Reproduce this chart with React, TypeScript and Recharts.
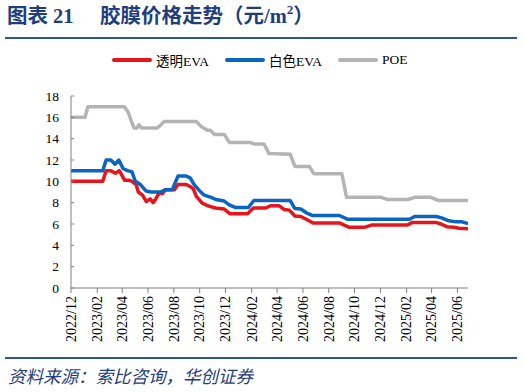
import React from 'react';
import { LineChart, Line, XAxis, YAxis } from 'recharts';

// x轴刻度（每两个月）
const tickLabels = [
	'2022/12', '2023/02', '2023/04', '2023/06', '2023/08', '2023/10', '2023/12', '2024/02',
	'2024/04', '2024/06', '2024/08', '2024/10', '2024/12', '2025/02', '2025/04', '2025/06',
];
const yTicks = [0, 2, 4, 6, 8, 10, 12, 14, 16, 18];
const lastDate = '2025-06-26';

// 透明EVA
const clearEvaDates = [
	'2022-12-01', '2023-02-14', '2023-02-22', '2023-03-05', '2023-03-16', '2023-03-25', '2023-04-07',
	'2023-04-17', '2023-04-24', '2023-05-04', '2023-05-09', '2023-05-19', '2023-05-28', '2023-06-06',
	'2023-06-13', '2023-06-20', '2023-06-27', '2023-07-05', '2023-07-12', '2023-08-02', '2023-08-11',
	'2023-08-30', '2023-09-09', '2023-09-16', '2023-09-23', '2023-10-07', '2023-10-21', '2023-11-07',
	'2023-11-28', '2023-12-12', '2024-01-22', '2024-02-05', '2024-03-05', '2024-03-16', '2024-04-06',
	'2024-04-18', '2024-04-30', '2024-05-13', '2024-05-27', '2024-06-11', '2024-06-25', '2024-08-26',
	'2024-09-17', '2024-10-26', '2024-11-10', '2025-02-02', '2025-02-15', '2025-04-11', '2025-04-23',
	'2025-05-07', '2025-05-23', '2025-06-05', '2025-06-26',
];
const clearEvaValues = [
	10, 10, 11, 11, 10.75, 11, 10.1,
	10.1, 10.0, 9.7, 9.0, 8.7, 8.1, 8.35,
	8.0, 8.4, 8.9, 8.85, 9.2, 9.2, 9.7,
	9.7, 9.5, 9.3, 8.6, 7.95, 7.7, 7.5,
	7.4, 6.95, 6.95, 7.5, 7.5, 7.7, 7.7,
	7.35, 7.3, 6.75, 6.7, 6.4, 6.1, 6.1,
	5.7, 5.7, 5.9, 5.9, 6.15, 6.15, 6.0,
	5.75, 5.7, 5.6, 5.55,
];

// 白色EVA
const whiteEvaDates = [
	'2022-12-01', '2023-02-14', '2023-02-22', '2023-03-05', '2023-03-15', '2023-03-24', '2023-04-03',
	'2023-04-13', '2023-04-24', '2023-05-02', '2023-05-14', '2023-05-27', '2023-06-08', '2023-07-01',
	'2023-07-11', '2023-07-28', '2023-08-11', '2023-08-30', '2023-09-09', '2023-09-18', '2023-10-01',
	'2023-10-12', '2023-10-28', '2023-11-08', '2023-11-28', '2023-12-10', '2023-12-24', '2024-01-24',
	'2024-02-06', '2024-05-02', '2024-05-13', '2024-05-27', '2024-06-09', '2024-06-23', '2024-08-26',
	'2024-09-14', '2025-02-08', '2025-02-20', '2025-04-11', '2025-04-23', '2025-05-12', '2025-05-29',
	'2025-06-12', '2025-06-26',
];
const whiteEvaValues = [
	11, 11, 12, 12, 11.6, 12, 11.2,
	11.0, 10.9, 10.0, 9.7, 9.1, 9.0, 9.0,
	9.2, 9.2, 10.5, 10.5, 10.3, 9.7, 9.1,
	8.7, 8.5, 8.3, 8.15, 7.8, 7.55, 7.55,
	8.2, 8.2, 7.45, 7.4, 7.05, 6.8, 6.8,
	6.45, 6.45, 6.7, 6.7, 6.6, 6.3, 6.2,
	6.2, 6.05,
];

// POE
const poeDates = [
	'2022-12-01', '2023-01-03', '2023-01-10', '2023-04-06', '2023-04-15', '2023-04-22', '2023-04-29',
	'2023-05-06', '2023-05-10', '2023-05-17', '2023-06-22', '2023-06-29', '2023-07-09', '2023-09-23',
	'2023-10-03', '2023-10-10', '2023-10-19', '2023-10-26', '2023-11-05', '2023-11-28', '2023-12-10',
	'2024-01-27', '2024-02-08', '2024-03-01', '2024-03-13', '2024-05-02', '2024-05-13', '2024-06-16',
	'2024-06-27', '2024-09-01', '2024-09-12', '2024-12-03', '2024-12-17', '2025-02-04', '2025-02-20',
	'2025-03-30', '2025-04-18', '2025-06-26',
];
const poeValues = [
	16, 16, 17, 17, 16.5, 15.7, 15.0,
	15.0, 15.3, 15.0, 15.0, 15.2, 15.6, 15.6,
	15.2, 15.0, 14.8, 14.8, 14.4, 14.4, 13.65,
	13.65, 13.5, 13.5, 12.6, 12.55, 11.4, 11.4,
	10.7, 10.7, 8.5, 8.5, 8.3, 8.3, 8.5,
	8.5, 8.2, 8.2,
];

const toTime = (d: string) => Date.parse(d + 'T00:00:00Z');
const labelToTime = (l: string) => Date.UTC(Number(l.slice(0, 4)), Number(l.slice(5)) - 1, 1);
const pairs = (dates: string[], values: number[]) =>
	dates.map((d, i) => ({ t: toTime(d), v: values[i] }));

const clearEvaData = pairs(clearEvaDates, clearEvaValues);
const whiteEvaData = pairs(whiteEvaDates, whiteEvaValues);
const poeData = pairs(poeDates, poeValues);
const xTicks = tickLabels.map(labelToTime);

const NAVY = '#1f3e7c';
const RULE = '#2f5597';
const AXIS = '#808080';
const SERIF = '"Liberation Serif", "Noto Sans CJK SC", serif';

const formatTick = (t: number) => {
	const d = new Date(t);
	return `${d.getUTCFullYear()}/${String(d.getUTCMonth() + 1).padStart(2, '0')}`;
};

const XTick = (props: any) => {
	const { x, y, payload } = props;
	return (
		<g transform={`translate(${x},${y})`}>
			<text
				transform="rotate(-90)"
				x={0}
				y={4.8}
				textAnchor="end"
				fontSize={14}
				fontFamily={SERIF}
				fill="#000"
			>
				{formatTick(payload.value)}
			</text>
		</g>
	);
};

const YTick = (props: any) => {
	const { x, y, payload } = props;
	return (
		<g>
			<line x1={x + 12} x2={x + 15} y1={y} y2={y} stroke={AXIS} strokeWidth={1} />
			<text x={x} y={y + 4.5} textAnchor="end" fontSize={13.5} fontFamily={SERIF} fill="#000">
				{payload.value}
			</text>
		</g>
	);
};

const legendItems = [
	{ name: '透明EVA', color: '#e8141b', left: 112 },
	{ name: '白色EVA', color: '#0865c2', left: 225 },
	{ name: 'POE', color: '#b4b4b4', left: 338 },
];

export default function App() {
	return (
		<div
			style={{
				position: 'fixed',
				left: 0,
				top: 0,
				width: 524,
				height: 392,
				background: '#fff',
				fontFamily: SERIF,
			}}
		>
			<div
				style={{
					position: 'absolute',
					left: 7,
					top: 3,
					fontSize: 20.5,
					fontWeight: 'bold',
					color: NAVY,
					whiteSpace: 'nowrap',
					lineHeight: '26px',
				}}
			>
				图表 21
			</div>
			<div
				style={{
					position: 'absolute',
					left: 100,
					top: 3,
					fontSize: 20.5,
					fontWeight: 'bold',
					color: NAVY,
					whiteSpace: 'nowrap',
					lineHeight: '26px',
				}}
			>
				胶膜价格走势（元/m<sup style={{ fontSize: 13, verticalAlign: 'top', lineHeight: '14px' }}>2</sup>）
			</div>
			<div style={{ position: 'absolute', left: 5, top: 37, width: 512, height: 2, background: RULE }} />

			{legendItems.map((it) => (
				<div
					key={it.name}
					style={{
						position: 'absolute',
						left: it.left,
						top: 51,
						height: 18,
						display: 'flex',
						alignItems: 'center',
						whiteSpace: 'nowrap',
						fontSize: 13.5,
						color: '#000',
					}}
				>
					<span style={{ display: 'inline-block', width: 40, height: 4, borderRadius: 2, background: it.color, marginRight: 4 }} />
					<span>{it.name}</span>
				</div>
			))}

			<div style={{ position: 'absolute', left: 0, top: 0 }}>
				<LineChart width={524} height={392} margin={{ top: 96, right: 56, bottom: 44, left: 41 }}>
					<XAxis
						type="number"
						dataKey="t"
						domain={[xTicks[0], toTime(lastDate)]}
						ticks={xTicks}
						tick={<XTick />}
						interval={0}
						height={60}
						tickSize={5}
						tickMargin={3}
						stroke={AXIS}
						allowDataOverflow
					/>
					<YAxis
						type="number"
						domain={[0, 18]}
						ticks={yTicks}
						tick={<YTick />}
						interval={0}
						width={30}
						tickLine={false}
						tickSize={0}
						tickMargin={12}
						stroke={AXIS}
					/>
					<Line
						data={clearEvaData}
						dataKey="v"
						type="linear"
						stroke="#e8141b"
						strokeWidth={3.5}
						dot={false}
						strokeLinejoin="round"
						isAnimationActive={false}
					/>
					<Line
						data={whiteEvaData}
						dataKey="v"
						type="linear"
						stroke="#0865c2"
						strokeWidth={3.5}
						dot={false}
						strokeLinejoin="round"
						isAnimationActive={false}
					/>
					<Line
						data={poeData}
						dataKey="v"
						type="linear"
						stroke="#b4b4b4"
						strokeWidth={3.5}
						dot={false}
						strokeLinejoin="round"
						isAnimationActive={false}
					/>
				</LineChart>
			</div>

			<div style={{ position: 'absolute', left: 5, top: 357, width: 512, height: 2, background: RULE }} />
			<div
				style={{
					position: 'absolute',
					left: 8,
					top: 366,
					fontSize: 17.5,
					fontStyle: 'italic',
					color: NAVY,
					whiteSpace: 'nowrap',
					lineHeight: '22px',
				}}
			>
				资料来源：索比咨询，华创证券
			</div>
		</div>
	);
}
